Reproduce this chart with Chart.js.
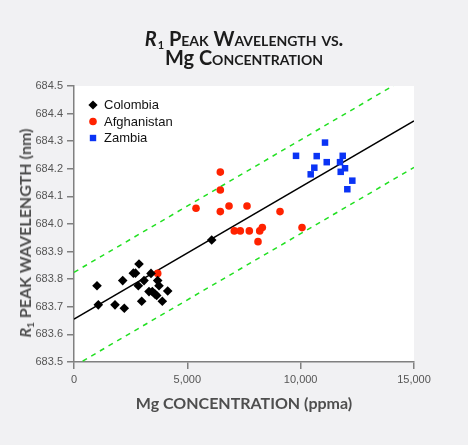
<!DOCTYPE html>
<html>
<head>
<meta charset="utf-8">
<script src="https://cdn.jsdelivr.net/npm/chart.js@4.4.0/dist/chart.umd.min.js"></script>
<style>
  body { margin: 0; background: #f1f1f3; }
  #wrap { position: relative; width: 468px; height: 445px; overflow: hidden; }
  #chart { position: absolute; left: 0; top: 0; }
  .title { position: absolute; left: 244px; transform: translateX(-50%); white-space: nowrap;
           font-family: Lato, sans-serif; font-weight: bold; font-size: 20px; line-height: 1;
           color: #1c1c1c; font-variant: small-caps; }
  .title sub { font-size: 11px; font-variant: normal; vertical-align: -3px; margin-left: 1px; }
  .nocaps { font-variant: normal; }
  .axis-title { position: absolute; white-space: nowrap; font-family: Lato, sans-serif;
                font-weight: bold; font-size: 16px; line-height: 1; color: #4e4e4e; }
  .axis-title sub { font-size: 10px; vertical-align: -3px; }
  #ytitle { left: 26px; top: 233px; transform: translate(-50%, -50%) rotate(-90deg); }
  #xtitle { left: 244px; top: 403px; transform: translate(-50%, -50%); }
</style>
</head>
<body>
<div id="wrap">
  <canvas id="chart" width="468" height="445"></canvas>
  <div class="title" style="top:28px"><i>R</i><sub>1</sub> Peak Wavelength vs.</div>
  <div class="title" style="top:47px"><span class="nocaps">Mg</span> Concentration</div>
  <div class="axis-title" id="ytitle"><i>R</i><sub>1</sub> PEAK WAVELENGTH (nm)</div>
  <div class="axis-title" id="xtitle">Mg CONCENTRATION (ppma)</div>
</div>
<script>
// values
const colombiaX = [1015, 1072, 1809, 2149, 2219, 2617, 2714, 2837, 2868, 2986, 3089, 3309, 3397, 3455, 3574, 3692, 3648, 3750, 3896, 4134, 6075];
const colombiaY = [683.776, 683.707, 683.707, 683.795, 683.695, 683.822, 683.822, 683.776, 683.855, 683.720, 683.795, 683.755, 683.821, 683.755, 683.746, 683.795, 683.741, 683.776, 683.720, 683.757, 683.942];

const afghanX = [3693, 5383, 6455, 6455, 6455, 6839, 7633, 9089, 7073, 7337, 7734, 8193, 8308, 8118, 10060];
const afghanY = [683.821, 684.057, 684.188, 684.123, 684.045, 684.065, 684.065, 684.045, 683.975, 683.975, 683.975, 683.975, 683.987, 683.936, 683.987];

const zambiaX = [9795, 11074, 10708, 11855, 11150, 11736, 11957, 10602, 10443, 11767, 12279, 12058];
const zambiaY = [684.247, 684.295, 684.246, 684.247, 684.224, 684.224, 684.202, 684.204, 684.180, 684.189, 684.157, 684.126];

const fitX = [0, 15000];
const fitY = [683.655, 684.374];
const upperY = [683.825, 684.545];
const lowerY = [683.485, 684.205];

const xTickValues = [0, 5000, 10000, 15000];
const yTickValues = [683.5, 683.6, 683.7, 683.8, 683.9, 684.0, 684.1, 684.2, 684.3, 684.4, 684.5];

const toPoints = (xs, ys) => xs.map((x, i) => ({ x: x, y: ys[i] }));

const plotBackground = {
  id: 'plotBackground',
  beforeDraw(chart) {
    const { ctx, chartArea: a } = chart;
    ctx.save();
    ctx.fillStyle = '#ffffff';
    ctx.fillRect(a.left, a.top, a.right - a.left, a.bottom - a.top);
    ctx.restore();
  }
};

// legend drawn inside the plot, top left
const insideLegend = {
  id: 'insideLegend',
  afterDraw(chart) {
    const ctx = chart.ctx;
    ctx.save();
    ctx.font = '13px "Liberation Sans", Arial, sans-serif';
    ctx.textBaseline = 'middle';
    chart.data.datasets.slice(0, 3).forEach((ds, i) => {
      const x = 93, y = 105 + i * 16.5;
      ctx.fillStyle = ds.backgroundColor;
      ctx.beginPath();
      if (ds.pointStyle === 'rectRot') {
        ctx.moveTo(x, y - 4.6); ctx.lineTo(x + 4.6, y); ctx.lineTo(x, y + 4.6); ctx.lineTo(x - 4.6, y);
        ctx.closePath();
      } else if (ds.pointStyle === 'circle') {
        ctx.arc(x, y, 3.8, 0, Math.PI * 2);
      } else {
        ctx.rect(x - 3.2, y - 3.2, 6.4, 6.4);
      }
      ctx.fill();
      ctx.fillStyle = '#111';
      ctx.fillText(ds.label, 104, y + 0.5);
    });
    ctx.restore();
  }
};

const axisColor = '#808080';
const tickFont = { family: '"Liberation Sans", Arial, sans-serif', size: 11 };

new Chart(document.getElementById('chart'), {
  type: 'scatter',
  data: {
    datasets: [
      { label: 'Colombia', data: toPoints(colombiaX, colombiaY), pointStyle: 'rectRot',
        pointRadius: 4.8, borderWidth: 0, backgroundColor: '#000000', borderColor: '#000000' },
      { label: 'Afghanistan', data: toPoints(afghanX, afghanY), pointStyle: 'circle',
        pointRadius: 3.8, borderWidth: 0, backgroundColor: '#ff2200', borderColor: '#ff2200' },
      { label: 'Zambia', data: toPoints(zambiaX, zambiaY), pointStyle: 'rect',
        pointRadius: 4.6, borderWidth: 0, backgroundColor: '#0a33f5', borderColor: '#0a33f5' },
      { label: 'fit', data: toPoints(fitX, fitY), showLine: true, pointRadius: 0,
        borderColor: '#000000', borderWidth: 1.5 },
      { label: 'upper', data: toPoints(fitX, upperY), showLine: true, pointRadius: 0,
        borderColor: '#22e022', borderWidth: 1.5, borderDash: [5, 5] },
      { label: 'lower', data: toPoints(fitX, lowerY), showLine: true, pointRadius: 0,
        borderColor: '#22e022', borderWidth: 1.5, borderDash: [5, 5] }
    ]
  },
  options: {
    responsive: false,
    animation: false,
    devicePixelRatio: 1,
    layout: { padding: { top: 86, right: 54, left: 0, bottom: 0 } },
    plugins: {
      legend: { display: false },
      tooltip: { enabled: false }
    },
    scales: {
      x: {
        type: 'linear',
        min: 0,
        max: 15000,
        afterBuildTicks: s => { s.ticks = xTickValues.map(v => ({ value: v })); },
        afterFit: s => { s.height = 83; },
        border: { display: true, color: axisColor, width: 1.5 },
        grid: { drawOnChartArea: false, drawTicks: true, tickLength: 7, color: axisColor, lineWidth: 1.5 },
        ticks: { padding: 4, color: '#555', font: tickFont, maxRotation: 0,
                 callback: v => v.toLocaleString('en-US') }
      },
      y: {
        type: 'linear',
        min: 683.5,
        max: 684.5,
        afterBuildTicks: s => { s.ticks = yTickValues.map(v => ({ value: v })); },
        afterFit: s => { s.width = 74; },
        border: { display: true, color: axisColor, width: 1.5 },
        grid: { drawOnChartArea: false, drawTicks: true, tickLength: 7, color: axisColor, lineWidth: 1.5 },
        ticks: { padding: 4, color: '#555', font: tickFont,
                 callback: v => Number(v).toFixed(1) }
      }
    }
  },
  plugins: [plotBackground, insideLegend]
});
</script>
</body>
</html>
